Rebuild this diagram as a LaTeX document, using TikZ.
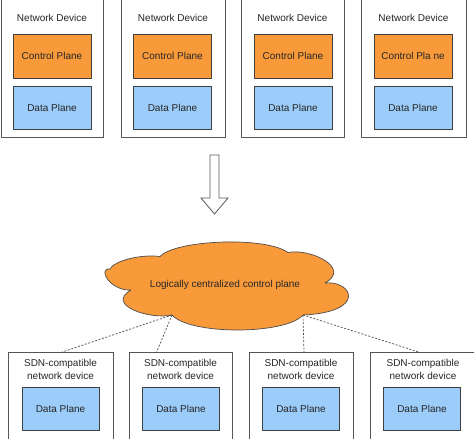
\documentclass[tikz,border=0pt]{standalone}
\usepackage{fontspec}
\setmainfont{Liberation Sans}
\usetikzlibrary{calc}
\definecolor{cp}{RGB}{248,154,58}
\definecolor{dp}{RGB}{156,204,250}
\definecolor{edgec}{RGB}{85,85,85}
\tikzset{
  devbox/.style={draw=edgec, line width=0.8pt, fill=white, rectangle, inner sep=0pt},
  ctrlbox/.style={draw=black!75, line width=0.6pt, fill=cp, rectangle, minimum width=78pt, minimum height=44pt, inner sep=0pt, font=\fontsize{10}{12}\selectfont, text=black!85},
  databox/.style={draw=black!75, line width=0.6pt, fill=dp, rectangle, minimum width=77pt, minimum height=43pt, inner sep=0pt, font=\fontsize{10}{12}\selectfont, text=black!85},
  devlabel/.style={inner sep=0pt, font=\fontsize{10}{13}\selectfont, align=center, text=black!85},
  cloudshape/.style={draw=black!70, line width=0.7pt, fill=cp, line join=round},
  link/.style={draw=black!70, line width=0.7pt, dash pattern=on 2pt off 1.6pt},
}
\begin{document}
\begin{tikzpicture}[x=1pt,y=-1pt]
\useasboundingbox (0,0) rectangle (474,439);
\clip (0,0) rectangle (474,439);
\fill[white] (0,0) rectangle (474,439);
% top devices
\foreach \i/\cx/\w/\ix in {1/52/102/52, 2/173/104/172.5, 3/292.5/103/293, 4/413.5/105/413}{
  \node[devbox, minimum width=\w pt, minimum height=147pt] (d\i) at (\cx,63.5) {};
  \node[devlabel] (t\i) at (\cx,18) {Network Device};
  \node[databox, minimum width=78pt] (dp\i) at (\ix,107.5) {Data Plane};
}
\node[ctrlbox] (c1) at (52,56) {Control Plane};
\node[ctrlbox] (c2) at (172.5,56) {Control Plane};
\node[ctrlbox] (c3) at (293,56) {Control Plane};
\node[ctrlbox] (c4) at (413,56) {Control Pla ne};
% block arrow
\draw[draw=black!65, fill=white, line width=0.8pt, line join=miter]
  (210,155) -- (219,155) -- (219,198) -- (228,198) -- (214.5,214) -- (201,198) -- (210,198) -- cycle;
% cloud
\coordinate (cA) at (110,269);
\coordinate (cB) at (160,256.5);
\coordinate (cC) at (288,252.5);
\coordinate (cD) at (325,283);
\coordinate (cl2) at (303,315);
\coordinate (cl1) at (172,315);
\coordinate (cG) at (131,290);
\path[cloudshape] (cA) .. controls (114,261) and (140,254) .. (cB)
  .. controls (175,240) and (265,236) .. (cC)
  .. controls (310,248) and (352,268) .. (cD)
  .. controls (352,280) and (368,312) .. (cl2)
  .. controls (285,335) and (190,335) .. (cl1)
  .. controls (150,320) and (105,305) .. (cG)
  .. controls (110,291) and (97,268) .. (cA) -- cycle;
\node[inner sep=0pt, font=\fontsize{10}{12}\selectfont, text=black!85] (cloud) at (225,285) {Logically centralized control plane};
% bottom devices
\foreach \i/\cx/\w/\ix in {1/60.5/105/60.5, 2/180.5/103/181, 3/301/104/301, 4/423/106/422}{
  \node[devbox, minimum width=\w pt, minimum height=95pt] (s\i) at (\cx,400) {};
  \node[devlabel] (st\i) at (\cx,369.5) {SDN-compatible\\network device};
  \node[databox] (sd\i) at (\ix,408.5) {Data Plane};
}
\draw[link] (cl1) -- ($(s1.north)+(1.5,0)$);
\draw[link] (cl1) -- ($(s2.north west)!0.27!(s2.north east)$);
\draw[link] (cl2) -- ($(s3.north)+(3,0)$);
\draw[link] (cl2) -- ($(s4.north)+(-4,0)$);
\end{tikzpicture}
\end{document}
